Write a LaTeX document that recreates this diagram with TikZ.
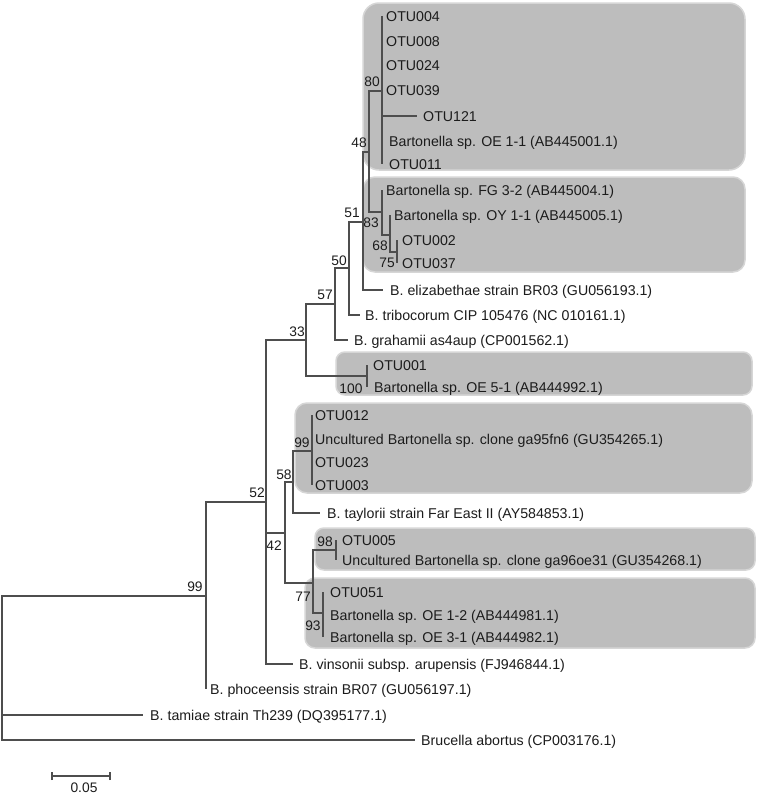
\documentclass[tikz,border=0pt]{standalone}
\usepackage{fontspec}
\setmainfont{Liberation Sans}
\definecolor{lc}{HTML}{4E4E4E}
\definecolor{tc}{HTML}{1C1C1C}
\definecolor{boxc}{HTML}{BDBDBD}
\definecolor{boxe}{HTML}{D6D6D6}
\begin{document}
\begin{tikzpicture}[x=1pt,y=-1pt,
  br/.style={draw=lc,line width=1.2pt},
  leaf/.style={anchor=west,inner sep=0pt,text=tc,font=\fontsize{14.2}{16}\selectfont,text height=10pt,text depth=0pt},
  bs/.style={inner sep=0pt,text=tc,font=\fontsize{13.8}{16}\selectfont,text height=10pt,text depth=0pt},
  clade/.style={fill=boxc,draw=boxe,line width=1.5pt,rounded corners=#1}]
\useasboundingbox (0,0) rectangle (759,796);
\fill[white] (0,0) rectangle (759,796);
% clade boxes
\path[clade=16] (363,3) rectangle (745,170);
\path[clade=12] (363,177) rectangle (745,272);
\path[clade=9] (336,352) rectangle (752,395);
\path[clade=12] (295,403) rectangle (752,493);
\path[clade=9] (315,528) rectangle (755,570);
\path[clade=10] (305,578) rectangle (755,648);
% internal nodes
\coordinate (root) at (2,668);
\coordinate (n99) at (206,596);
\coordinate (n52) at (266,502);
\coordinate (n33) at (306,340);
\coordinate (n57) at (335,304);
\coordinate (n50) at (349,268);
\coordinate (n51) at (363,222);
\coordinate (n48) at (369,152);
\coordinate (n80) at (382,91);
\coordinate (n83) at (382,212);
\coordinate (n68) at (390,235);
\coordinate (n75) at (397,252);
\coordinate (n100) at (367,376);
\coordinate (n42) at (285,533);
\coordinate (n58) at (293,482);
\coordinate (n99b) at (312,451);
\coordinate (n77) at (313,583);
\coordinate (n98) at (336,550);
\coordinate (n93) at (323,613);
% leaves
\node[leaf] (otu004) at (386,16) {OTU004};
\node[leaf] (otu008) at (386,41) {OTU008};
\node[leaf] (otu024) at (386,65) {OTU024};
\node[leaf] (otu039) at (386,90) {OTU039};
\node[leaf] (otu121) at (423,116) {OTU121};
\node[leaf] (oe11) at (389,141) {Bartonella sp. OE 1-1 (AB445001.1)};
\node[leaf] (otu011) at (389,164) {OTU011};
\node[leaf] (fg32) at (386,190) {Bartonella sp. FG 3-2 (AB445004.1)};
\node[leaf] (oy11) at (394,215) {Bartonella sp. OY 1-1 (AB445005.1)};
\node[leaf] (otu002) at (402,240) {OTU002};
\node[leaf] (otu037) at (402,263) {OTU037};
\node[leaf] (eliz) at (390,290) {B. elizabethae strain BR03 (GU056193.1)};
\node[leaf] (tribo) at (365,315) {B. tribocorum CIP 105476 (NC 010161.1)};
\node[leaf] (graham) at (354,340) {B. grahamii as4aup (CP001562.1)};
\node[leaf] (otu001) at (373,365) {OTU001};
\node[leaf] (oe51) at (374,387) {Bartonella sp. OE 5-1 (AB444992.1)};
\node[leaf] (otu012) at (315,415) {OTU012};
\node[leaf] (ga95) at (315,439) {Uncultured Bartonella sp. clone ga95fn6 (GU354265.1)};
\node[leaf] (otu023) at (315,462) {OTU023};
\node[leaf] (otu003) at (315,485) {OTU003};
\node[leaf] (taylorii) at (327,513) {B. taylorii strain Far East II (AY584853.1)};
\node[leaf] (otu005) at (342,540) {OTU005};
\node[leaf] (ga96) at (342,560) {Uncultured Bartonella sp. clone ga96oe31 (GU354268.1)};
\node[leaf] (otu051) at (330,592) {OTU051};
\node[leaf] (oe12) at (330,615) {Bartonella sp. OE 1-2 (AB444981.1)};
\node[leaf] (oe31) at (330,637) {Bartonella sp. OE 3-1 (AB444982.1)};
\node[leaf] (vinsonii) at (299,664) {B. vinsonii subsp. arupensis (FJ946844.1)};
\node[leaf] (phoc) at (210,689) {B. phoceensis strain BR07 (GU056197.1)};
\node[leaf] (tamiae) at (150,715) {B. tamiae strain Th239 (DQ395177.1)};
\node[leaf] (brucella) at (421,740) {Brucella abortus (CP003176.1)};
% bootstrap values
\node[bs] (b80) at (372,81) {80};
\node[bs] (b48) at (359,142) {48};
\node[bs] (b51) at (352,212) {51};
\node[bs] (b83) at (371,222) {83};
\node[bs] (b68) at (380,245) {68};
\node[bs] (b75) at (387,262) {75};
\node[bs] (b50) at (339,260) {50};
\node[bs] (b57) at (325,294) {57};
\node[bs] (b33) at (297,331) {33};
\node[bs] (b100) at (351,388) {100};
\node[bs] (b99b) at (302,442) {99};
\node[bs] (b58) at (284,474) {58};
\node[bs] (b52) at (257,492) {52};
\node[bs] (b42) at (274,545) {42};
\node[bs] (b98) at (325,541) {98};
\node[bs] (b77) at (303,596) {77};
\node[bs] (b93) at (313,625) {93};
\node[bs] (b99) at (195,586) {99};
% branches
\draw[br] (root) |- (n99);
\draw[br] (root) |- ([xshift=-7pt]tamiae.west);
\draw[br] (root) |- ([xshift=-6pt]brucella.west);
\draw[br] (n99) |- (n52);
\draw[br] (n99) |- (phoc.west -| n99);
\draw[br] (n52) |- (n33);
\draw[br] (n52) |- (n42);
\draw[br] (n52) |- ([xshift=-6pt]vinsonii.west);
\draw[br] (n33) |- (n57);
\draw[br] (n33) |- (n100);
\draw[br] (n57) |- (n50);
\draw[br] (n57) |- ([xshift=-6pt]graham.west);
\draw[br] (n50) |- (n51);
\draw[br] (n50) |- ([xshift=-5pt]tribo.west);
\draw[br] (n51) |- (n48);
\draw[br] (n51) |- ([xshift=-7pt]eliz.west);
\draw[br] (n48) |- (n80);
\draw[br] (n48) |- (n83);
\draw[br] (n80) |- (otu004.west -| n80);
\draw[br] (n80) |- (otu008.west -| n80);
\draw[br] (n80) |- (otu024.west -| n80);
\draw[br] (n80) |- (otu039.west -| n80);
\draw[br] (n80) |- ([xshift=-6pt]otu121.west);
\draw[br] (n80) |- (oe11.west -| n80);
\draw[br] (n80) |- (otu011.west -| n80);
\draw[br] (n83) |- (fg32.west -| n83);
\draw[br] (n83) |- (n68);
\draw[br] (n68) |- (oy11.west -| n68);
\draw[br] (n68) |- (n75);
\draw[br] (n75) |- (otu002.west -| n75);
\draw[br] (n75) |- (otu037.west -| n75);
\draw[br] (n100) |- (otu001.west -| n100);
\draw[br] (n100) |- (oe51.west -| n100);
\draw[br] (n42) |- (n58);
\draw[br] (n42) |- (n77);
\draw[br] (n58) |- (n99b);
\draw[br] (n58) |- ([xshift=-7pt]taylorii.west);
\draw[br] (n99b) |- (otu012.west -| n99b);
\draw[br] (n99b) |- (ga95.west -| n99b);
\draw[br] (n99b) |- (otu023.west -| n99b);
\draw[br] (n99b) |- (otu003.west -| n99b);
\draw[br] (n77) |- (n98);
\draw[br] (n77) |- (n93);
\draw[br] (n98) |- (otu005.west -| n98);
\draw[br] (n98) |- (ga96.west -| n98);
\draw[br] (n93) |- (otu051.west -| n93);
\draw[br] (n93) |- (oe12.west -| n93);
\draw[br] (n93) |- (oe31.west -| n93);
% scale bar
\coordinate (sbL) at (52,776);
\coordinate (sbR) at (110,776);
\draw[br] (sbL) -- (sbR);
\draw[br] ([yshift=-4pt]sbL) -- ([yshift=4pt]sbL);
\draw[br] ([yshift=-4pt]sbR) -- ([yshift=4pt]sbR);
\node[bs] (sblab) at (84,787) {0.05};
\end{tikzpicture}
\end{document}
